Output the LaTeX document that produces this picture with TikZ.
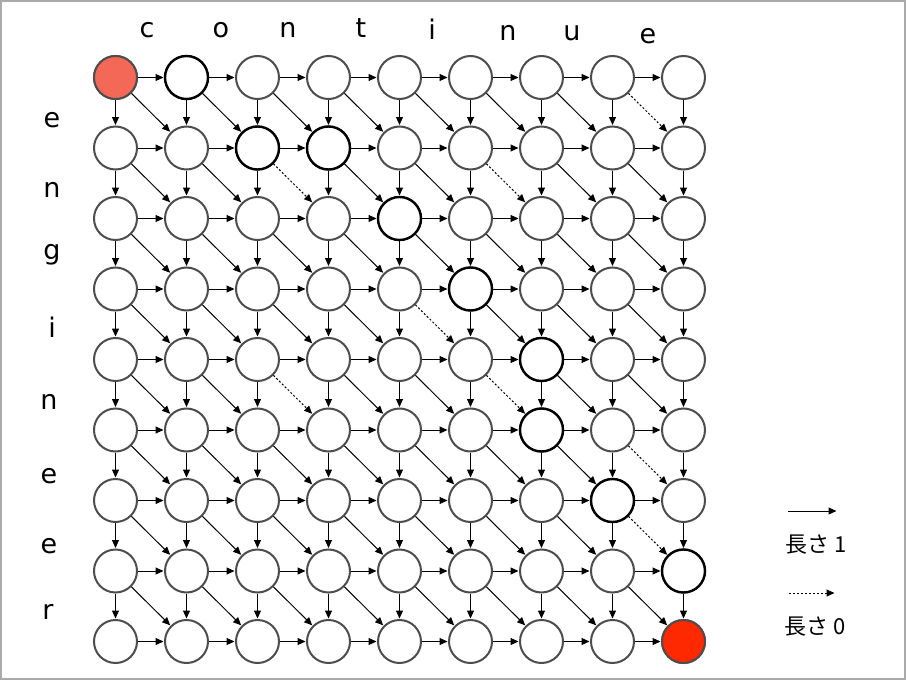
\documentclass[tikz,border=0pt]{standalone}
\usepackage{fontspec}
\setmainfont{DejaVu Sans}
\newfontfamily\jpfont{Noto Sans CJK JP}
\usetikzlibrary{arrows.meta}
\definecolor{startred}{HTML}{F36857}
\definecolor{endred}{HTML}{FF2900}
\definecolor{ringgray}{HTML}{4D4D4D}
\definecolor{framegray}{HTML}{AAAAAA}
\begin{document}
\begin{tikzpicture}[x=1pt,y=-1pt,
  vtx/.style={circle,draw=ringgray,line width=2pt,minimum size=43pt,inner sep=0pt,fill=white},
  pathvtx/.style={vtx,draw=black,line width=2.4pt},
  edge/.style={-{Triangle[length=8pt,width=7pt]},line width=1pt,black,shorten >=0.5pt},
  zero/.style={edge,dash pattern=on 2pt off 2pt},
  lbl/.style={font=\fontsize{27}{27}\selectfont,inner sep=0pt,anchor=base},
  jlbl/.style={font=\jpfont\fontsize{22}{22}\selectfont,inner sep=0pt}
]
\draw[framegray,line width=2pt,fill=white] (1,1) rectangle (905,679);
\useasboundingbox (0,0) rectangle (906,680);

% match pairs (source row-col) for zero-length diagonals
\foreach \p in {0-7,1-2,1-5,3-4,4-2,4-5,5-7,6-7}{\expandafter\gdef\csname zz\p\endcsname{1}}

% nodes
\foreach \i in {0,...,8}{
  \foreach \j in {0,...,8}{
    \node[vtx] (n-\i-\j) at ({115.5+71*\j},{77.5+70.5*\i}) {};
  }
}
\foreach \q in {0-1,1-2,1-3,2-4,3-5,4-6,5-6,6-7,7-8}{
  \node[pathvtx] at (n-\q) {};
}
\node[vtx,fill=startred] at (n-0-0) {};
\node[vtx,fill=endred] at (n-8-8) {};

% horizontal edges
\foreach \i in {0,...,8}{
  \foreach \j [evaluate=\j as \jj using int(\j+1)] in {0,...,7}{
    \draw[edge] (n-\i-\j) -- (n-\i-\jj);
  }
}
% vertical edges
\foreach \i [evaluate=\i as \ii using int(\i+1)] in {0,...,7}{
  \foreach \j in {0,...,8}{
    \draw[edge] (n-\i-\j) -- (n-\ii-\j);
  }
}
% diagonal edges
\foreach \i [evaluate=\i as \ii using int(\i+1)] in {0,...,7}{
  \foreach \j [evaluate=\j as \jj using int(\j+1)] in {0,...,7}{
    \ifcsname zz\i-\j\endcsname
      \draw[zero] (n-\i-\j) -- (n-\ii-\jj);
    \else
      \draw[edge] (n-\i-\j) -- (n-\ii-\jj);
    \fi
  }
}

% column letters
\node[lbl] (c1) at (147,37) {c};
\node[lbl] (c2) at (221,37) {o};
\node[lbl] (c3) at (288,37) {n};
\node[lbl] (c4) at (361,37) {t};
\node[lbl] (c5) at (432,39) {i};
\node[lbl] (c6) at (508,40) {n};
\node[lbl] (c7) at (572,40) {u};
\node[lbl] (c8) at (648,43) {e};
% row letters
\node[lbl] (r1) at (52,127) {e};
\node[lbl] (r2) at (52,197) {n};
\node[lbl] (r3) at (52,259) {g};
\node[lbl] (r4) at (52,337) {i};
\node[lbl] (r5) at (49,409) {n};
\node[lbl] (r6) at (49,483) {e};
\node[lbl] (r7) at (49,553) {e};
\node[lbl] (r8) at (48,619) {r};

% legend
\coordinate (l1a) at (788,511);
\coordinate (l1b) at (837,511);
\draw[edge] (l1a) -- (l1b);
\node[jlbl] (t1) at (816,545) {長さ 1};
\coordinate (l0a) at (789,593);
\coordinate (l0b) at (835,593);
\draw[zero] (l0a) -- (l0b);
\node[jlbl] (t0) at (815,627) {長さ 0};
\end{tikzpicture}
\end{document}
